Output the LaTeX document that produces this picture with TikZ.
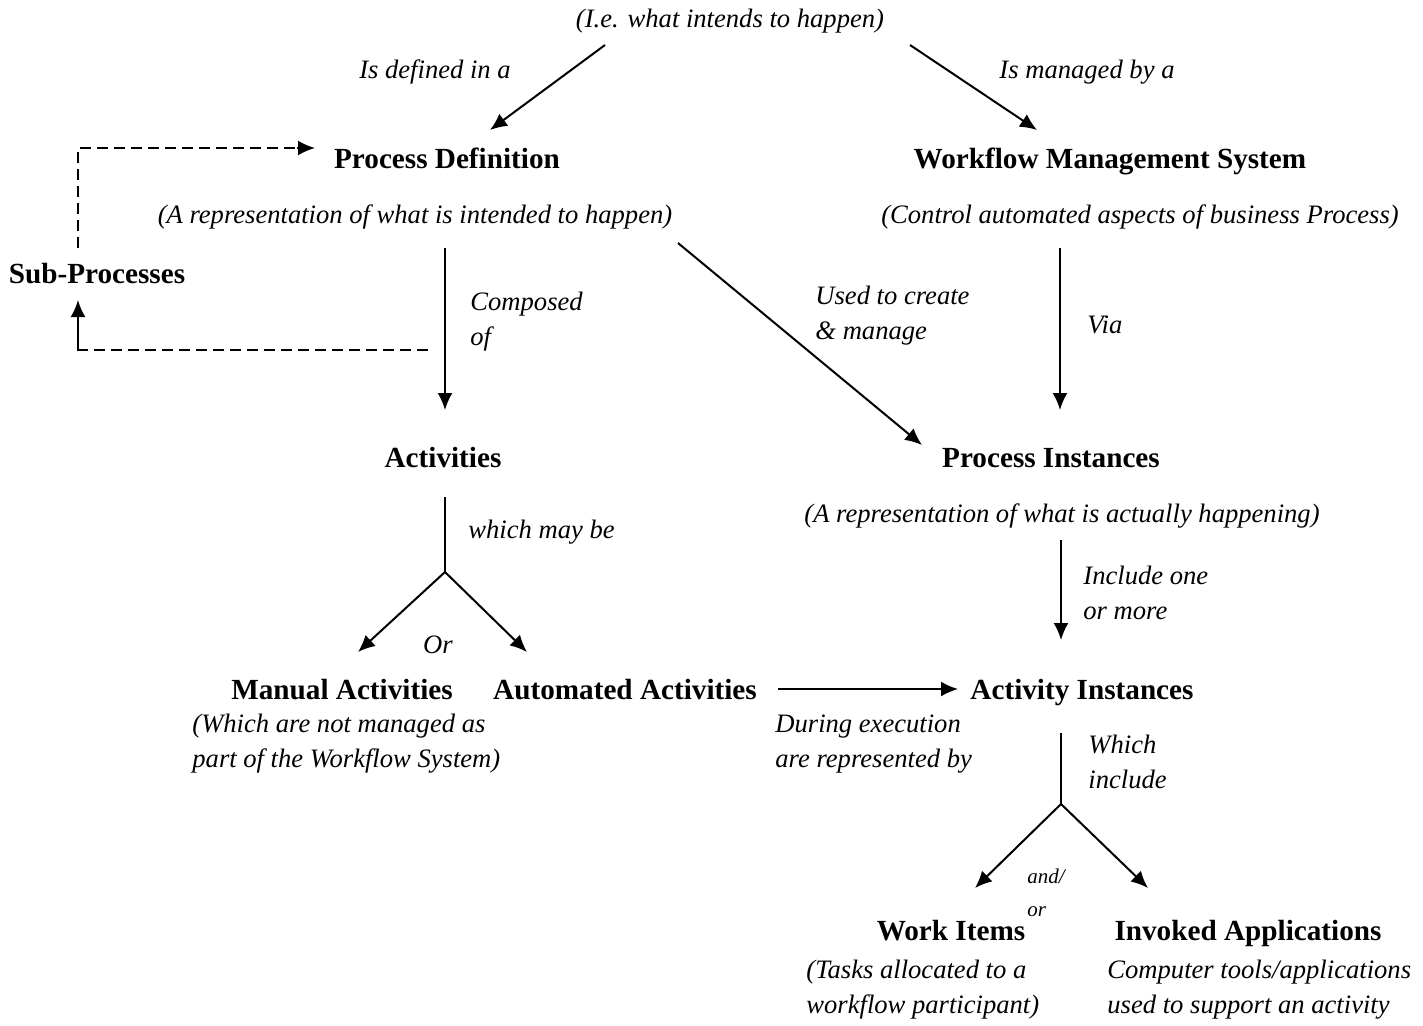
\documentclass[tikz,border=0pt]{standalone}
\usepackage{fontspec}
\setmainfont{Liberation Serif}
\usetikzlibrary{calc,arrows.meta}
\tikzset{
  label-bold/.style={
    font=\fontsize{14.6}{17.5}\selectfont\bfseries,
    text height=10pt,
    text depth=0pt,
    inner sep=0pt
  },
  label-note/.style={
    font=\fontsize{13.3}{17.5}\selectfont\itshape,
    inner sep=0pt
  },
  label-side/.style={
    label-note,
    align=left,
    anchor=west
  },
  arrow-solid/.style={line width=1pt, -{Latex[length=8.5pt,width=7.5pt]}},
  line-plain/.style={line width=0.8pt},
  line-dashed/.style={line width=0.8pt, dash pattern=on 5.5pt off 3pt}
}

\begin{document}
\begin{tikzpicture}[x=0.5pt,y=-0.5pt]
  \useasboundingbox (0,0) rectangle (1423,1025);
  % Nodes
  \node[label-note] (intent) at (730,21) {(I.e. what intends to happen)};
  \node[label-bold] (procdef) at (447,158) {Process Definition};
  \node[label-bold] (wfms) at (1110,158) {Workflow Management System};
  \node[label-note] (procdefnote) at (415,217) {(A representation of what is intended to happen)};
  \node[label-note] (wfmsnote) at (1140,217) {(Control automated aspects of business Process)};
  \node[label-bold] (subproc) at (97,273) {Sub-Processes};
  \node[label-bold] (act) at (443,457) {Activities};
  \node[label-bold] (procinst) at (1051,457) {Process Instances};
  \node[label-note] (procinstnote) at (1062,516) {(A representation of what is actually happening)};
  \node[label-bold] (manual) at (342,689) {Manual Activities};
  \node[label-bold] (auto) at (625,689) {Automated Activities};
  \node[label-bold] (actinst) at (1082,689) {Activity Instances};
  \node[label-bold] (work) at (951,930) {Work Items};
  \node[label-bold] (invoked) at (1248,930) {Invoked Applications};
  % Notes under the nodes
  \node[label-side] (manualnote) at (192,744) {(Which are not managed as\\part of the Workflow System)};
  \node[label-side] (worknote) at (806,990) {(Tasks allocated to a\\workflow participant)};
  \node[label-side] (invokednote) at (1107,990) {Computer tools/applications\\used to support an activity};
  % Connector labels
  \node[label-note] (definedin) at (435,72) {Is defined in a};
  \node[label-note] (managedby) at (1087,72) {Is managed by a};
  \node[label-side] (composed) at (470,322) {Composed\\of};
  \node[label-side] (usedto) at (815,316) {Used to create\\\& manage};
  \node[label-side] (via) at (1087,325) {Via};
  \node[label-side] (maybe) at (468,532) {which may be};
  \node[label-note] (ortag) at (438,645) {Or};
  \node[label-side] (during) at (775,744) {During execution\\are represented by};
  \node[label-side] (includeone) at (1083,593) {Include one\\or more};
  \node[label-side] (whichinc) at (1088,762) {Which\\include};
  \node[label-side, font=\fontsize{10.5}{16.5}\selectfont\itshape] (andor) at (1027,893) {and/\\or};
  % Forks
  \coordinate (forkact) at ($(act)+(2,115)$);
  \coordinate (forkinst) at ($(actinst)+(-21,115)$);
  % Top arrows
  \draw[arrow-solid] ($(intent)+(-125,24)$) -- ($(procdef)+(43,-28)$);
  \draw[arrow-solid] ($(intent)+(180,24)$) -- ($(wfms)+(-73,-28)$);
  % Definition and management
  \draw[arrow-solid] ($(procdefnote)+(30,31)$) -- ($(act)+(2,-47)$);
  \draw[arrow-solid] ($(procdefnote)+(263,26)$) -- ($(procinst)+(-129,-12)$);
  \draw[arrow-solid] ($(wfmsnote)+(-80,31)$) -- ($(procinst)+(9,-47)$);
  % Sub-process loop
  \draw[line-dashed] ($(subproc)+(-19,-25)$) -- ($(subproc)+(-19,-125)$) -- ($(procdef)+(-145,-10)$);
  \draw[arrow-solid] ($(procdef)+(-150,-10)$) -- ($(procdef)+(-132,-10)$);
  \draw[line-dashed] ($(act)+(-15,-107)$) -- ($(subproc)+(-19,77)$);
  \draw[arrow-solid] ($(subproc)+(-19,78)$) -- ($(subproc)+(-19,27)$);
  % Activities split
  \draw[line-plain] ($(act)+(2,40)$) -- (forkact);
  \draw[arrow-solid] (forkact) -- ($(manual)+(16,-37)$);
  \draw[arrow-solid] (forkact) -- ($(auto)+(-98,-37)$);
  % Instances
  \draw[arrow-solid] ($(auto)+(153,0)$) -- ($(actinst)+(-124,0)$);
  \draw[arrow-solid] ($(procinstnote)+(-1,24)$) -- ($(actinst)+(-21,-49)$);
  \draw[line-plain] ($(actinst)+(-21,44)$) -- (forkinst);
  \draw[arrow-solid] (forkinst) -- ($(work)+(24,-42)$);
  \draw[arrow-solid] (forkinst) -- ($(invoked)+(-100,-42)$);
\end{tikzpicture}
\end{document}
